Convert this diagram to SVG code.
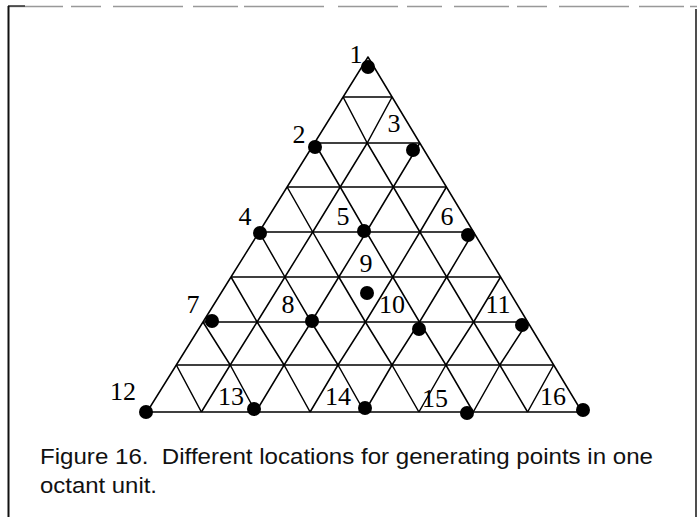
<svg xmlns="http://www.w3.org/2000/svg" width="700" height="517" viewBox="0 0 700 517">
<style>
.grid{fill:none;stroke:#000;stroke-width:1.5;stroke-linejoin:round}
.dot{fill:#000}
.lbl{font-family:"Liberation Serif","Times New Roman",serif;font-size:26px;fill:#000;text-anchor:middle}
.cap{font-family:"Liberation Sans",Arial,sans-serif;font-size:22px;fill:#111;white-space:pre}
</style>
<rect width="700" height="517" fill="#fff"/>
<g id="frame">
<line x1="8" y1="6.5" x2="697" y2="6.5" stroke="#999" stroke-width="1.3" stroke-dasharray="55 8 30 12 70 10 45 6 80 14 60 9 35 12"/>
<line x1="8" y1="6" x2="25" y2="6" stroke="#333" stroke-width="1.5"/>
<line x1="8.5" y1="6" x2="8.5" y2="517" stroke="#111" stroke-width="2"/>
<line x1="696" y1="9" x2="696" y2="517" stroke="#222" stroke-width="1.6"/>
</g>
<g id="connectors">
<polygon class="grid" points="368,57 343.1,97 314.5,143 287.1,187 259.1,232 231,277 203,322 176.3,365 147,412 582,412 553.7,365 527.7,322 500.6,277 473.5,232 446.4,187 419.8,143 392.1,97"/>
<path class="grid" d="M343.1,97H392.1 M314.5,143H419.8 M287.1,187H446.4 M259.1,232H473.5 M231,277H500.6 M203,322H527.7 M176.3,365H553.7"/>
<path class="grid" d="M392.1,97L367.2,143L340.2,187L312.7,232L284.9,277L257.1,322L230.2,365L201.4,412
M419.8,143L393.3,187L366.3,232L338.8,277L311.2,322L284.1,365L255.75,412
M446.4,187L419.9,232L392.8,277L365.4,322L338,365L310.1,412
M473.5,232L446.7,277L419.5,322L392,365L364.5,412
M500.6,277L473.6,322L445.9,365L418.9,412
M527.7,322L499.8,365L473.25,412
M553.7,365L527.6,412"/>
<path class="grid" d="M343.1,97L367.2,143L393.3,187L419.9,232L446.7,277L473.6,322L499.8,365L527.6,412
M314.5,143L340.2,187L366.3,232L392.8,277L419.5,322L445.9,365L473.25,412
M287.1,187L312.7,232L338.8,277L365.4,322L392,365L418.9,412
M259.1,232L284.9,277L311.2,322L338,365L364.5,412
M231,277L257.1,322L284.1,365L310.1,412
M203,322L230.2,365L255.75,412
M176.3,365L201.4,412"/>
</g>
<g id="p1"><circle class="dot" cx="368" cy="67" r="7"/><text class="lbl" x="356" y="63">1</text></g>
<g id="p2"><circle class="dot" cx="315" cy="147" r="7"/><text class="lbl" x="299" y="143">2</text></g>
<g id="p3"><circle class="dot" cx="413" cy="150" r="7"/><text class="lbl" x="394" y="132">3</text></g>
<g id="p4"><circle class="dot" cx="260" cy="233" r="7"/><text class="lbl" x="245" y="225">4</text></g>
<g id="p5"><circle class="dot" cx="364" cy="231" r="7"/><text class="lbl" x="343" y="225">5</text></g>
<g id="p6"><circle class="dot" cx="468" cy="235" r="7"/><text class="lbl" x="447" y="225">6</text></g>
<g id="p7"><circle class="dot" cx="212" cy="321" r="7"/><text class="lbl" x="193" y="313">7</text></g>
<g id="p8"><circle class="dot" cx="312" cy="321" r="7"/><text class="lbl" x="288" y="313">8</text></g>
<g id="p9"><circle class="dot" cx="367" cy="293" r="7"/><text class="lbl" x="366" y="272">9</text></g>
<g id="p10"><circle class="dot" cx="419" cy="329" r="7"/><text class="lbl" x="392" y="313">10</text></g>
<g id="p11"><circle class="dot" cx="522" cy="325" r="7"/><text class="lbl" x="498" y="313">11</text></g>
<g id="p12"><circle class="dot" cx="146" cy="412" r="7"/><text class="lbl" x="123" y="400">12</text></g>
<g id="p13"><circle class="dot" cx="254" cy="409" r="7"/><text class="lbl" x="231" y="405">13</text></g>
<g id="p14"><circle class="dot" cx="365" cy="408" r="7"/><text class="lbl" x="338" y="405">14</text></g>
<g id="p15"><circle class="dot" cx="467" cy="413" r="7"/><text class="lbl" x="435" y="407">15</text></g>
<g id="p16"><circle class="dot" cx="583" cy="410" r="7"/><text class="lbl" x="553" y="405">16</text></g>
<g id="caption">
<text class="cap" x="40" y="464" textLength="613" lengthAdjust="spacingAndGlyphs" xml:space="preserve">Figure 16.  Different locations for generating points in one</text>
<text class="cap" x="40" y="493" textLength="117" lengthAdjust="spacingAndGlyphs">octant unit.</text>
</g>
</svg>
